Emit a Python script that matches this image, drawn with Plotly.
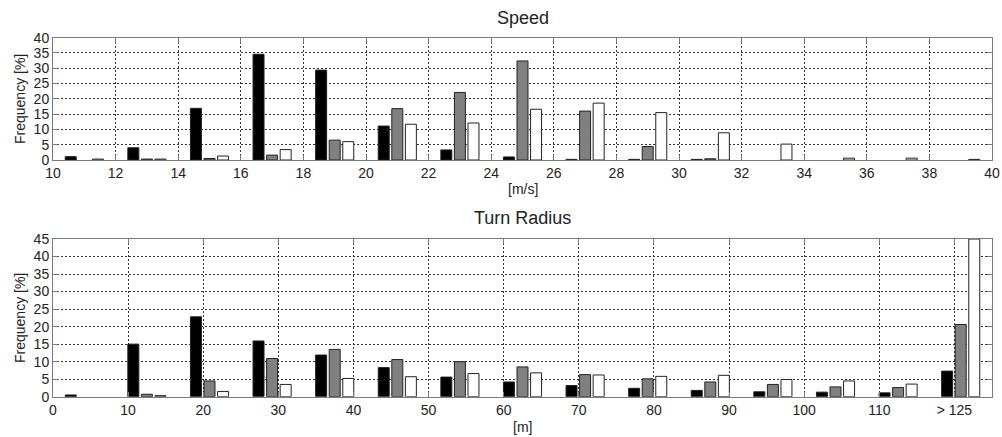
import plotly.graph_objects as go

# ---- Speed histogram (bins of 2 m/s, centred on odd values) ----
speed_bins = [11, 13, 15, 17, 19, 21, 23, 25, 27, 29, 31, 33, 35, 37, 39]
speed_black = [1.1, 4.0, 16.9, 34.6, 29.4, 11.1, 3.3, 1.0, 0.2, 0.2, 0.2, 0.0, 0.0, 0.0, 0.0]
speed_gray = [0.0, 0.3, 0.5, 1.6, 6.5, 16.8, 22.1, 32.4, 16.0, 4.4, 0.4, 0.0, 0.0, 0.0, 0.0]
speed_white = [0.3, 0.3, 1.3, 3.4, 6.0, 11.7, 12.1, 16.6, 18.6, 15.5, 8.9, 5.2, 0.6, 0.6, 0.2]

# ---- Turn radius histogram (15 equal bins over 0..125 m, last one open) ----
radius_bin_count = 15
radius_max = 125
radius_bins = [(i + 0.5) * radius_max / radius_bin_count for i in range(radius_bin_count)]
radius_black = [0.5, 15.0, 22.8, 15.9, 11.9, 8.3, 5.6, 4.2, 3.2, 2.4, 1.8, 1.4, 1.3, 1.1, 7.3]
radius_gray = [0.0, 0.7, 4.5, 10.9, 13.5, 10.6, 10.0, 8.5, 6.3, 5.1, 4.2, 3.5, 2.8, 2.6, 20.6]
radius_white = [0.0, 0.3, 1.5, 3.5, 5.2, 5.7, 6.6, 6.8, 6.2, 5.8, 6.1, 4.9, 4.5, 3.6, 45.0]

radius_ticks = [0, 10, 20, 30, 40, 50, 60, 70, 80, 90, 100, 110, 120]
radius_ticktext = ["0", "10", "20", "30", "40", "50", "60", "70", "80", "90", "100", "110", "> 125"]

fills = ["#000000", "#808080", "#ffffff"]
FONT = "Liberation Sans, Arial, sans-serif"

fig = go.Figure()

for xa, ya, xs, series in [
    ("x", "y", speed_bins, [speed_black, speed_gray, speed_white]),
    ("x2", "y2", radius_bins, [radius_black, radius_gray, radius_white]),
]:
    for i, (vals, col) in enumerate(zip(series, fills)):
        # empty bins are left blank rather than drawn as a flat outline
        shown = [v if v > 0 else None for v in vals]
        fig.add_trace(go.Bar(
            x=xs, y=shown, xaxis=xa, yaxis=ya,
            offsetgroup=str(i),
            marker=dict(color=col, line=dict(color="#222222", width=1)),
            showlegend=False,
        ))

axis_common = dict(
    showline=True, linecolor="#7a7a7a", linewidth=1, mirror="ticks",
    ticks="inside", ticklen=5, tickcolor="#7a7a7a",
    showgrid=True, gridcolor="#333333", griddash="2px,2px", gridwidth=1,
    zeroline=False, automargin=False,
    tickfont=dict(family=FONT, size=14, color="#222222"),
)

x_dom = [53 / 1002, 992 / 1002]
fig.update_layout(
    width=1002, height=437,
    margin=dict(l=0, r=0, t=0, b=0),
    paper_bgcolor="white", plot_bgcolor="white",
    barmode="group", bargap=0.35, bargroupgap=0.19,
    font=dict(family=FONT, color="#222222"),
    xaxis=dict(domain=x_dom, anchor="y", range=[10, 40], tickmode="linear",
               tick0=10, dtick=2, **axis_common),
    yaxis=dict(domain=[1 - 160 / 437, 1 - 37.7 / 437], anchor="x", range=[0, 40],
               tickmode="linear", tick0=0, dtick=5, **axis_common),
    xaxis2=dict(domain=x_dom, anchor="y2", range=[0, radius_max],
                tickmode="array", tickvals=radius_ticks, ticktext=radius_ticktext,
                **axis_common),
    yaxis2=dict(domain=[1 - 396.7 / 437, 1 - 239 / 437], anchor="x2", range=[0, 45],
                tickmode="linear", tick0=0, dtick=5, **axis_common),
)

cx = (x_dom[0] + x_dom[1]) / 2
labels = [
    ("Speed", cx, 1 - 18 / 437, 18, 0),
    ("Turn Radius", cx, 1 - 218 / 437, 18, 0),
    ("[m/s]", cx, 1 - 189 / 437, 14, 0),
    ("[m]", cx, 1 - 427 / 437, 14, 0),
    ("Frequency [%]", 20 / 1002, 1 - 99 / 437, 14, -90),
    ("Frequency [%]", 20 / 1002, 1 - 318 / 437, 14, -90),
]
for text, x, y, size, ang in labels:
    fig.add_annotation(text=text, x=x, y=y, xref="paper", yref="paper",
                       xanchor="center", yanchor="middle",
                       showarrow=False, textangle=ang,
                       font=dict(family=FONT, size=size, color="#222222"))

fig.write_html("out.html")
